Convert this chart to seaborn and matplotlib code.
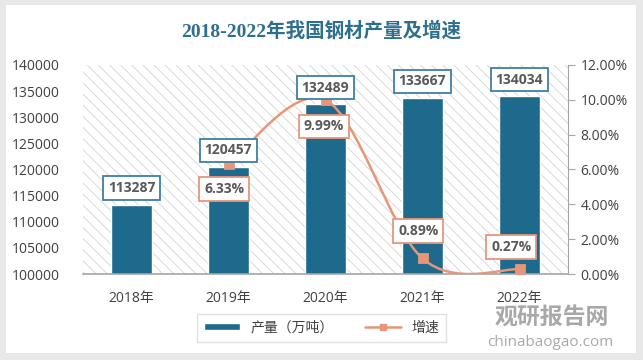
import numpy as np
import pandas as pd
import seaborn as sns
import matplotlib.pyplot as plt
from matplotlib.patches import Rectangle, PathPatch
from matplotlib.path import Path
from matplotlib.lines import Line2D
from matplotlib.ticker import FuncFormatter

years = ['2018年', '2019年', '2020年', '2021年', '2022年']
output = [113287, 120457, 132489, 133667, 134034]
growth_years = ['2019年', '2020年', '2021年', '2022年']
growth = [6.33, 9.99, 0.89, 0.27]
growth_labels = ['6.33%', '9.99%', '0.89%', '0.27%']

bar_color = '#1d6a8c'
line_color = '#e8967a'
txt_color = '#595959'

sns.set_style('white')
plt.rcParams['font.family'] = ['Open Sans', 'Noto Sans CJK SC', 'DejaVu Sans']
plt.rcParams['hatch.linewidth'] = 0.6
plt.rcParams['hatch.color'] = '#cfcfcf'

fig = plt.figure(figsize=(6.43, 3.6), dpi=100, facecolor='#e8e8e8')
fig.patches.append(Rectangle((6 / 643, 7 / 360), 630 / 643, 348 / 360,
                             transform=fig.transFigure, facecolor='white',
                             edgecolor='none', zorder=-10))

ax = fig.add_axes([83 / 643, 86 / 360, 485 / 643, 209 / 360])
ax.set_facecolor('white')
ax.add_patch(Rectangle((0, 0), 1, 1, transform=ax.transAxes, facecolor='white',
                       edgecolor='#d4d4d4', hatch='\\\\\\', linewidth=0, zorder=0))

df = pd.DataFrame({'year': years, 'output': output})
sns.barplot(data=df, x='year', y='output', color=bar_color, width=0.42,
            saturation=1, ax=ax, zorder=2)
ax.set_ylim(100000, 140000)
ax.set_xlim(-0.5, 4.5)
ax.set_yticks(range(100000, 140001, 5000))
ax.set_xlabel('')
ax.set_ylabel('')
for s in ['top', 'left', 'right']:
    ax.spines[s].set_visible(False)
ax.spines['bottom'].set_color('#a6a6a6')
ax.spines['bottom'].set_linewidth(1.2)
ax.tick_params(axis='both', length=0, labelsize=10, colors='#404040', pad=12)
ax.tick_params(axis='y', pad=17)

ax2 = ax.twinx()
gx = [years.index(y) for y in growth_years]
# smooth curve (Catmull-Rom style bezier, like Excel's smoothed line)
pts = np.column_stack([gx, growth]).astype(float)
verts = [tuple(pts[0])]
codes = [Path.MOVETO]
n = len(pts)
for i in range(n - 1):
    p0 = pts[i - 1] if i > 0 else pts[i]
    p1, p2 = pts[i], pts[i + 1]
    p3 = pts[i + 2] if i + 2 < n else pts[i + 1]
    c1 = p1 + (p2 - p0) / 6
    c2 = p2 - (p3 - p1) / 6
    verts += [tuple(c1), tuple(c2), tuple(p2)]
    codes += [Path.CURVE4] * 3
ax2.add_patch(PathPatch(Path(verts, codes), facecolor='none', edgecolor=line_color,
                        linewidth=1.8, zorder=3))
sns.scatterplot(x=gx, y=growth, marker='s', s=55, color=line_color,
                edgecolor=line_color, ax=ax2, zorder=4)
ax2.set_ylim(0, 12)
ax2.set_yticks(np.arange(0, 12.1, 2))
ax2.yaxis.set_major_formatter(FuncFormatter(lambda v, p: f'{v:.2f}%'))
for s in ['top', 'left', 'bottom']:
    ax2.spines[s].set_visible(False)
ax2.spines['right'].set_color('#a6a6a6')
ax2.tick_params(axis='y', length=5, color='#a6a6a6', labelsize=10,
                labelcolor='#404040', pad=4, direction='out')

# value labels
for i, v in enumerate(output):
    ax2.annotate(str(v), xy=(i, v), xycoords=ax.transData, xytext=(0, 12),
                 textcoords='offset points', ha='center', va='center',
                 fontsize=10, fontweight='bold', color=txt_color, zorder=6,
                 bbox=dict(boxstyle='square,pad=0.35', fc='white', ec='#3f7fa2', lw=1.3))
offsets = [(-3, -18), (-1, -19), (-3, 20), (-6, 16)]
for x, v, lab, off in zip(gx, growth, growth_labels, offsets):
    ax2.annotate(lab, xy=(x, v), xytext=off, textcoords='offset points',
                 ha='center', va='center', fontsize=10, fontweight='bold',
                 color=txt_color, zorder=6,
                 bbox=dict(boxstyle='square,pad=0.35', fc='white', ec=line_color, lw=1.3))

fig.text(0.5, 0.915, '2018-2022年我国钢材产量及增速', ha='center', va='center',
         fontsize=14, fontweight='bold', color='#2e6f8e',
         family=['Liberation Serif', 'Noto Sans CJK SC'])

handles = [Rectangle((0, 0), 1, 1, facecolor=bar_color),
           Line2D([0], [0], color=line_color, lw=1.8, marker='s', markersize=5)]
leg = fig.legend(handles, ['产量（万吨）', '增速'], loc='center', ncol=2,
                 bbox_to_anchor=(0.5, 0.089), frameon=True, fancybox=False,
                 edgecolor='#d9d9d9', fontsize=10, handlelength=2.6,
                 handleheight=0.35, columnspacing=2.2, borderpad=0.45)
for t in leg.get_texts():
    t.set_color('#404040')

# watermark
fig.text(0.858, 0.116, '观研报告网', ha='center', va='center', fontsize=16.5,
         fontweight='bold', color='#a8a8a8', family=['Noto Sans CJK SC'])
fig.text(0.856, 0.05, 'chinabaogao.com', ha='center', va='center', fontsize=11,
         color='#a8a8a8')

fig.savefig('out.png', dpi=100, facecolor=fig.get_facecolor())
